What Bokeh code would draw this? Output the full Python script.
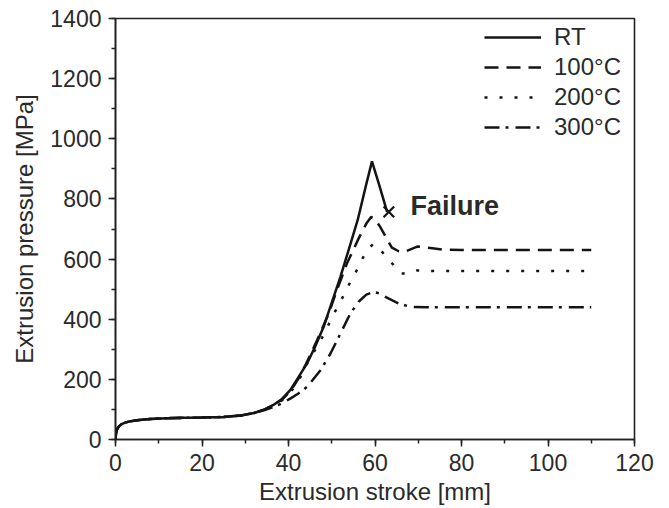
from bokeh.plotting import figure
from bokeh.models import Legend, LegendItem, SingleIntervalTicker, Range1d, Label
from bokeh.embed import file_html
from bokeh.resources import INLINE

# ---- data ----
x_rt = [0, 0.1, 0.3, 0.7, 1.3, 2.2, 3.5, 5.5, 8, 12, 16, 20, 25, 29, 32, 34.5, 36.5, 38.5, 40.4, 42.2, 44.3, 46.2, 48.1, 50, 52, 54, 56, 58, 59.3, 61, 62.8]
y_rt = [0, 18, 32, 42, 50, 56, 61, 65, 68, 71, 72, 73, 75, 80, 88, 100, 115, 135, 164, 205, 253, 310, 374, 455, 541, 635, 730, 850, 925, 845, 757]

x_100 = [0, 0.1, 0.3, 0.7, 1.3, 2.2, 3.5, 5.5, 8, 12, 16, 20, 25, 29, 32, 34.5, 36.5, 38.5, 40.4, 42.2, 44, 46.6, 49.3, 51.2, 53.5, 56.2, 58, 59.1, 60, 61.2, 63.9, 65.5, 66.8, 68.5, 69.9, 72.8, 75.5, 80, 110]
y_100 = [0, 18, 32, 42, 50, 56, 61, 65, 68, 71, 72, 73, 75, 80, 88, 100, 114, 133, 160, 200, 250, 330, 419, 497, 585, 668, 718, 740, 733, 707, 638, 626, 624, 634, 642, 637, 632, 630, 630]

x_200 = [0, 0.1, 0.3, 0.7, 1.3, 2.2, 3.5, 5.5, 8, 12, 16, 20, 25, 29, 32, 34.5, 36.5, 38.5, 40.4, 42.5, 44.7, 46.6, 48.5, 50.1, 52, 53.9, 55.8, 57.4, 58.6, 59.6, 60.5, 63.3, 66, 67.5, 69.6, 75, 110]
y_200 = [0, 18, 32, 42, 50, 56, 61, 65, 68, 71, 72, 73, 75, 80, 88, 100, 113, 130, 155, 200, 264, 308, 358, 408, 458, 513, 563, 610, 637, 650, 643, 596, 552, 552, 562, 560, 560]

x_300 = [0, 0.1, 0.3, 0.7, 1.3, 2.2, 3.5, 5.5, 8, 12, 16, 20, 25, 29, 32, 34.5, 36.5, 38.5, 40.4, 42.2, 44.3, 47.4, 49.7, 52, 54.3, 56.2, 58, 59.7, 61, 62.4, 65.5, 68.2, 72, 110]
y_300 = [0, 18, 32, 42, 50, 56, 61, 65, 68, 71, 72, 73, 75, 80, 88, 98, 108, 120, 136, 152, 175, 230, 286, 352, 419, 458, 482, 491, 486, 474, 452, 441, 440, 440]

labels = ["RT", "100°C", "200°C", "300°C"]
failure_x = [63.2]
failure_y = [757]
failure_text = "Failure"

FONT = "Liberation Sans"
TXT = "#2a2a2a"
LINE = "#141414"

p = figure(width=669, height=508, output_backend="svg", toolbar_location=None,
           x_range=Range1d(0, 120), y_range=Range1d(0, 1400),
           min_border_left=115, min_border_right=35, min_border_top=18, min_border_bottom=69)
p.background_fill_color = "white"
p.border_fill_color = "white"
p.xgrid.visible = False
p.ygrid.visible = False
p.outline_line_color = "#222222"
p.outline_line_width = 1.6

for ax in (p.xaxis[0], p.yaxis[0]):
    ax.axis_line_color = "#222222"
    ax.axis_line_width = 1.6
    ax.major_tick_line_color = "#222222"
    ax.minor_tick_line_color = "#222222"
    ax.major_tick_line_width = 1.5
    ax.minor_tick_line_width = 1.5
    ax.major_tick_in = 0
    ax.major_tick_out = 7
    ax.minor_tick_in = 0
    ax.minor_tick_out = 4
    ax.major_label_text_font = FONT
    ax.major_label_text_font_size = "23px"
    ax.major_label_text_color = TXT
    ax.axis_label_text_font = FONT
    ax.axis_label_text_font_size = "24px"
    ax.axis_label_text_font_style = "normal"
    ax.axis_label_text_color = TXT

p.xaxis.ticker = SingleIntervalTicker(interval=20, num_minor_ticks=2)
p.yaxis.ticker = SingleIntervalTicker(interval=200, num_minor_ticks=2)
p.xaxis.axis_label = "Extrusion stroke [mm]"
p.yaxis.axis_label = "Extrusion pressure [MPa]"
p.xaxis.major_label_standoff = 7
p.xaxis.axis_label_standoff = 4
p.yaxis.major_label_standoff = 7
p.yaxis.axis_label_standoff = 9

r_rt = p.line(x_rt, y_rt, line_color=LINE, line_width=2.5)
r_100 = p.line(x_100, y_100, line_color=LINE, line_width=2.5, line_dash="14 8")
r_200 = p.line(x_200, y_200, line_color=LINE, line_width=2.5, line_dash="3 12")
r_300 = p.line(x_300, y_300, line_color=LINE, line_width=2.5, line_dash="15 6 3 7")

p.scatter(failure_x, failure_y, marker="x", size=15, line_color=LINE, line_width=2.2)
p.add_layout(Label(x=68.2, y=777, text=failure_text, text_font=FONT,
                   text_font_size="27px", text_font_style="bold", text_color=TXT,
                   text_baseline="middle", text_align="left"))

legend = Legend(items=[LegendItem(label=labels[0], renderers=[r_rt]),
                       LegendItem(label=labels[1], renderers=[r_100]),
                       LegendItem(label=labels[2], renderers=[r_200]),
                       LegendItem(label=labels[3], renderers=[r_300])],
                location=(369, 297), orientation="vertical")
legend.border_line_color = None
legend.background_fill_alpha = 0
legend.padding = 4
legend.spacing = 0
legend.margin = 0
legend.glyph_width = 57
legend.glyph_height = 30
legend.label_height = 30
legend.label_standoff = 13
legend.label_text_font = FONT
legend.label_text_font_size = "24px"
legend.label_text_color = TXT
p.add_layout(legend)

open("out.html", "w").write(file_html(p, INLINE))
